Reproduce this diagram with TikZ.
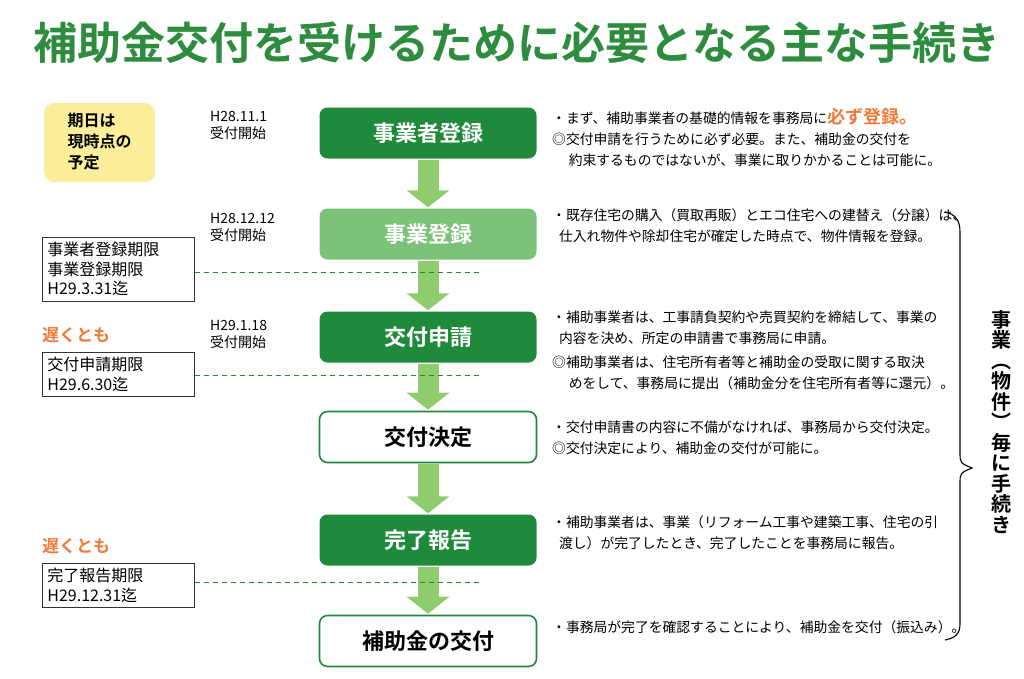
\documentclass[tikz,border=0pt]{standalone}
\usepackage{fontspec}
\setmainfont{Noto Sans CJK JP}
\newfontfamily\boldjp{Noto Sans CJK JP Bold}
\usetikzlibrary{arrows.meta}
\definecolor{dgreen}{HTML}{1F8A3C}
\definecolor{lgreen}{HTML}{7DC27A}
\definecolor{agreen}{HTML}{8FCC6E}
\definecolor{tgreen}{HTML}{2E8C3E}
\definecolor{dorange}{HTML}{EE7A3A}
\definecolor{yfill}{HTML}{FBEE9B}
\tikzset{
  stepbox/.style={rectangle, rounded corners=8pt, minimum width=217pt, minimum height=51pt, font=\boldjp\fontsize{22}{24}\selectfont},
  darkbox/.style={stepbox, fill=dgreen, text=white},
  lightbox/.style={stepbox, fill=lgreen, text=white},
  whitebox/.style={stepbox, draw=dgreen, line width=1.6pt, fill=white, text=black},
  flow/.style={agreen, line width=21pt, -{Triangle[width=42pt,length=17pt]}, shorten <=1pt, shorten >=1pt},
  limitbox/.style={draw=black!80, line width=0.8pt, anchor=north west, align=left, inner sep=5pt, text width=142pt, font=\fontsize{16}{19.5}\selectfont},
  datelabel/.style={anchor=north west, align=left, inner sep=0pt, font=\fontsize{14}{17}\selectfont},
  note/.style={anchor=north west, align=left, inner sep=0pt, font=\fontsize{13.8}{21}\selectfont},
  cutline/.style={dgreen, dashed, line width=1pt, dash pattern=on 5pt off 4pt},
  latest/.style={anchor=north west, inner sep=0pt, text=dorange, font=\boldjp\fontsize{17}{20}\selectfont}
}
\begin{document}
\begin{tikzpicture}[x=1pt,y=-1pt]
  \useasboundingbox (0,0) rectangle (1024,678);
  % title
  \node[text=tgreen, font=\boldjp\fontsize{44}{48}\selectfont] (title) at (517,43) {補助金交付を受けるために必要となる主な手続き};
  % note
  \node[fill=yfill, rounded corners=10pt, minimum width=111pt, minimum height=79pt, anchor=north west] (memo) at (44,103) {};
  \node[anchor=west, align=left, font=\boldjp\fontsize{16}{21}\selectfont] (memotext) at (64,142) {期日は\\現時点の\\予定};
  % steps
  \node[darkbox] (s1) at (428,133) {事業者登録};
  \node[lightbox] (s2) at (428,234) {事業登録};
  \node[darkbox] (s3) at (428,337) {交付申請};
  \node[whitebox] (s4) at (428,437) {交付決定};
  \node[darkbox] (s5) at (428,540) {完了報告};
  \node[whitebox] (s6) at (428,641) {補助金の交付};
  \draw[flow] (s1) -- (s2);
  \draw[flow] (s2) -- (s3);
  \draw[flow] (s3) -- (s4);
  \draw[flow] (s4) -- (s5);
  \draw[flow] (s5) -- (s6);
  % dates
  \node[datelabel] (d1) at (210,111) {H28.11.1\\受付開始};
  \node[datelabel] (d2) at (210,213) {H28.12.12\\受付開始};
  \node[datelabel] (d3) at (210,320) {H29.1.18\\受付開始};
  % deadlines
  \node[limitbox] (l1) at (42,237) {事業者登録期限\\事業登録期限\\H29.3.31迄};
  \node[latest] (late1) at (42,327) {遅くとも};
  \node[limitbox] (l2) at (42,352) {交付申請期限\\H29.6.30迄};
  \node[latest] (late2) at (42,538) {遅くとも};
  \node[limitbox] (l3) at (42,563) {完了報告期限\\H29.12.31迄};
  \coordinate (c1) at (480,272);
  \coordinate (c2) at (480,375);
  \coordinate (c3) at (480,582);
  \draw[cutline] (l1.east |- c1) -- (c1);
  \draw[cutline] (l2.east |- c2) -- (c2);
  \draw[cutline] (l3.east |- c3) -- (c3);
  % explanations
  \node[note] (n1) at (552,108) {・まず、補助事業者の基礎的情報を事務局に{\color{dorange}\boldjp\fontsize{18}{21}\selectfont 必ず登録。}\\◎交付申請を行うために必ず必要。また、補助金の交付を\\\hspace*{1.2em}約束するものではないが、事業に取りかかることは可能に。};
  \node[note] (n2) at (552,208) {・既存住宅の購入（買取再販）とエコ住宅への建替え（分譲）は、\\\hspace*{0.5em}仕入れ物件や除却住宅が確定した時点で、物件情報を登録。};
  \node[note] (n3) at (552,311) {・補助事業者は、工事請負契約や売買契約を締結して、事業の\\\hspace*{0.5em}内容を決め、所定の申請書で事務局に申請。\\[3pt]◎補助事業者は、住宅所有者等と補助金の受取に関する取決\\\hspace*{1.2em}めをして、事務局に提出（補助金分を住宅所有者等に還元）。};
  \node[note] (n4) at (552,421) {・交付申請書の内容に不備がなければ、事務局から交付決定。\\◎交付決定により、補助金の交付が可能に。};
  \node[note] (n5) at (552,515) {・補助事業者は、事業（リフォーム工事や建築工事、住宅の引\\\hspace*{0.5em}渡し）が完了したとき、完了したことを事務局に報告。};
  \node[note] (n6) at (552,620) {・事務局が完了を確認することにより、補助金を交付（振込み）。};
  % brace
  \draw[line width=1.1pt] (945,212) .. controls (955,214) and (960,220) .. (960,232) -- (960,452)
    .. controls (960,463) .. (972,468) .. controls (960,473) .. (960,484) -- (960,624)
    .. controls (960,634) and (955,638) .. (945,640);
  \node[align=center, inner sep=0pt, font=\boldjp\fontsize{20}{20.5}\selectfont] (each) at (1001,422) {事\\業\\︵\\物\\件\\︶\\毎\\に\\手\\続\\き};
\end{tikzpicture}
\end{document}
